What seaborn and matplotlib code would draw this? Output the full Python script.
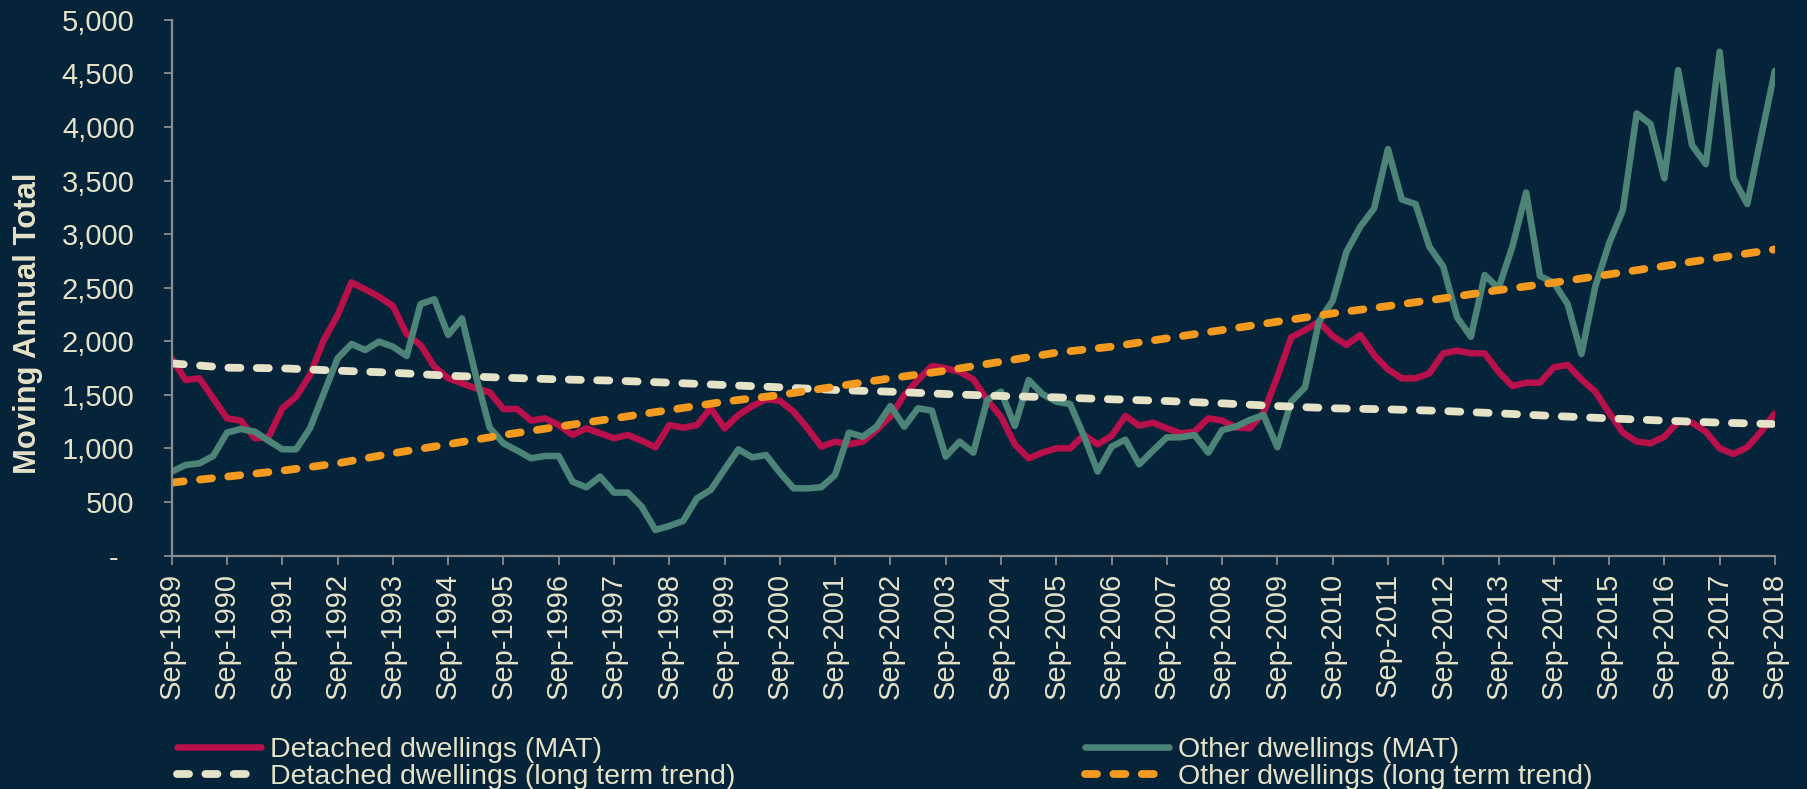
import numpy as np
import pandas as pd
import seaborn as sns
import matplotlib
matplotlib.use("Agg")
import matplotlib.pyplot as plt

# ---------------- data ----------------
years = list(range(1989, 2019))
tick_labels = [f"Sep-{y}" for y in years]

detached_mat = [
    1841, 1639, 1655, 1468, 1281, 1260, 1095, 1104, 1375, 1483, 1686, 2012, 2245, 2550, 2485, 2416, 2329, 2068, 1966, 1763, 1655, 1608, 1561, 1525,
    1368, 1368, 1260, 1281, 1219, 1126, 1188, 1141, 1095, 1126, 1073, 1011, 1219, 1194, 1219, 1375, 1188, 1312, 1396, 1459, 1446, 1343, 1188,
    1017, 1064, 1039, 1064, 1172, 1297, 1499, 1639, 1770, 1748, 1717, 1645, 1452, 1297, 1039, 908, 961, 1001, 1001, 1126, 1039, 1117, 1303,
    1213, 1241, 1188, 1141, 1157, 1281, 1260, 1197, 1188, 1334, 1670, 2037, 2105, 2183, 2049, 1966, 2059, 1872, 1738, 1655, 1655, 1701, 1888,
    1913, 1888, 1888, 1717, 1583, 1614, 1614, 1757, 1779, 1645, 1530, 1334, 1148, 1064, 1048, 1110, 1250, 1241, 1157, 1001, 949, 1011, 1157, 1328,
]
other_mat = [
    784, 846, 861, 930, 1148, 1182, 1157, 1073, 992, 992, 1188, 1515, 1841, 1975, 1919, 1997, 1950, 1863, 2348, 2392, 2059, 2214, 1680, 1195,
    1048, 980, 908, 930, 930, 690, 638, 737, 588, 588, 457, 239, 277, 323, 535, 613, 805, 992, 917, 939, 774, 628, 628,
    638, 753, 1148, 1110, 1204, 1396, 1204, 1375, 1353, 924, 1064, 961, 1452, 1530, 1210, 1639, 1508, 1437, 1415, 1117, 784, 1017, 1082,
    852, 980, 1104, 1104, 1126, 961, 1172, 1204, 1266, 1312, 1011, 1437, 1571, 2183, 2379, 2836, 3070, 3241, 3794, 3324, 3281, 2883, 2698,
    2224, 2043, 2619, 2494, 2883, 3390, 2609, 2547, 2348, 1882, 2510, 2914, 3225, 4127, 4027, 3521, 4531, 3831, 3654, 4702, 3521, 3281, 3909, 4525,
]
# long-term trends, read at each September
detached_trend = [1794, 1754, 1748, 1726, 1707, 1679, 1661, 1645, 1633, 1614, 1592, 1571, 1546, 1530, 1508,
                  1490, 1477, 1459, 1443, 1421, 1396, 1375, 1365, 1350, 1328, 1303, 1281, 1260, 1241, 1228]
other_trend = [681, 737, 793, 861, 955, 1039, 1126, 1204, 1281, 1359, 1437, 1499, 1577, 1655, 1726,
               1810, 1894, 1950, 2028, 2105, 2183, 2261, 2329, 2401, 2478, 2547, 2625, 2703, 2783, 2858]

labels = ["Detached dwellings (MAT)", "Detached dwellings (long term trend)",
          "Other dwellings (MAT)", "Other dwellings (long term trend)"]

quarters = np.arange(len(detached_mat))
year_pos = np.arange(len(years)) * 4

# ---------------- style ----------------
BG = "#052339"
RED = "#b8104a"
TEAL = "#4d8478"
CREAM = "#e6e2c8"
ORANGE = "#f39a1f"
GREY = "#8c8c8c"

sns.set_theme(style="white")
plt.rcParams["font.family"] = ["Liberation Sans", "DejaVu Sans"]

fig = plt.figure(figsize=(18.08, 7.89), dpi=100, facecolor=BG)
ax = fig.add_axes([0.095, 0.2958, 0.8867, 0.679])
ax.set_facecolor(BG)

LW = 4.7
LWD = 5.6
DASH = (0, (1.55, 2.1))

sns.lineplot(x=quarters, y=detached_mat, ax=ax, color=RED, lw=LW, label=labels[0],
             legend=False, solid_joinstyle="round", solid_capstyle="round")
sns.lineplot(x=quarters, y=other_mat, ax=ax, color=TEAL, lw=LW, label=labels[2],
             legend=False, solid_joinstyle="round", solid_capstyle="round")
sns.lineplot(x=year_pos, y=detached_trend, ax=ax, color=CREAM, lw=LWD, linestyle=DASH,
             label=labels[1], legend=False, dash_capstyle="round", dash_joinstyle="round")
sns.lineplot(x=year_pos, y=other_trend, ax=ax, color=ORANGE, lw=LWD, linestyle=DASH,
             label=labels[3], legend=False, dash_capstyle="round", dash_joinstyle="round")

ax.set_xlim(0, quarters[-1])
ax.set_ylim(0, 5000)

ax.set_xticks(year_pos)
ax.set_xticklabels(tick_labels, rotation=90, fontsize=21, color=CREAM)
yt = list(range(0, 5001, 500))
ax.set_yticks(yt)
ax.set_yticklabels(["-  "] + [f"{v:,}" for v in yt[1:]], fontsize=21, color=CREAM)
ax.tick_params(axis="x", length=6.5, width=1.3, color=GREY, pad=6, direction="out", bottom=True)
ax.tick_params(axis="y", length=5.8, width=1.3, color=GREY, pad=21, direction="out", left=True)
ax.set_xlabel("")
ax.set_ylabel("")

for s in ["top", "right"]:
    ax.spines[s].set_visible(False)
for s in ["left", "bottom"]:
    ax.spines[s].set_color(GREY)
    ax.spines[s].set_linewidth(1.6)
ax.grid(False)

fig.text(28 / 1808, 1 - 323 / 789, "Moving Annual Total", rotation=90, ha="center", va="center",
         fontsize=22.3, fontweight="bold", color=CREAM)

# legend: two single-column legends
lines = {ln.get_label(): ln for ln in ax.get_lines()}
common = dict(frameon=False, fontsize=20.5, labelcolor=CREAM, handlelength=2.95,
              handletextpad=0.3, labelspacing=0.05, borderpad=0, borderaxespad=0, loc="upper left")
leg1 = fig.legend([lines[labels[0]], lines[labels[1]]], [labels[0], labels[1]],
                  bbox_to_anchor=(177 / 1808, 1 - 737 / 789), **common)
leg2 = fig.legend([lines[labels[2]], lines[labels[3]]], [labels[2], labels[3]],
                  bbox_to_anchor=(1085 / 1808, 1 - 737 / 789), **common)

fig.savefig("out.png", dpi=100, facecolor=BG)
